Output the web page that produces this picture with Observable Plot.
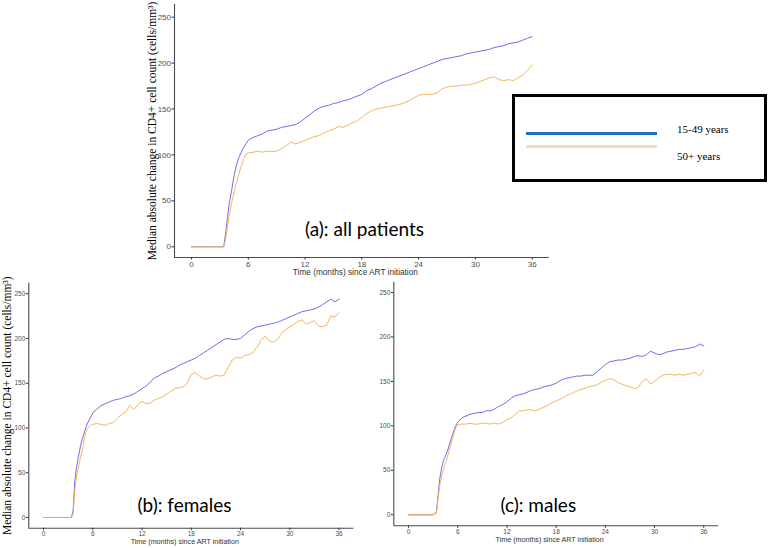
<!DOCTYPE html>
<html><head><meta charset="utf-8">
<script src="https://cdn.jsdelivr.net/npm/d3@7"></script>
<script src="https://cdn.jsdelivr.net/npm/@observablehq/plot@0.6"></script>
<style>
body{margin:0;background:#fff;}
#root{position:relative;width:768px;height:548px;overflow:hidden;background:#fff;}
.panel{position:absolute;}
#legend{position:absolute;left:512px;top:94px;width:255px;height:88px;border:3px solid #000;box-sizing:border-box;background:#fff;font-family:"Liberation Serif",serif;font-size:11px;color:#000;}
#legend .sw{position:absolute;left:11px;width:131px;height:3px;}
#legend .lb{position:absolute;left:162px;line-height:12px;white-space:nowrap;}
</style></head>
<body><div id="root"></div>
<script>
const months = [0,1,2,3,3.4,3.6,3.8,4,4.25,4.5,4.75,5,5.25,5.5,5.75,
  6,6.5,7,7.5,8,8.5,9,9.5,10,10.5,11,11.5,
  12,12.5,13,13.5,14,14.5,15,15.5,16,16.5,17,17.5,
  18,18.5,19,19.5,20,20.5,21,21.5,22,22.5,23,23.5,
  24,24.5,25,25.5,26,26.5,27,27.5,28,28.5,29,29.5,
  30,30.5,31,31.5,32,32.5,33,33.5,34,34.5,35,35.5,36];

const allYoung = [0,0,0,0, 0,14,32,48,62,78,89,97,103,108,112,
  116,119,121,123,126,127,128,130,131,132,133,136,
  140,144,148,151,153,154,156,157,159,160,162,164,
  166,170,172,175,178,180,182,184,186,188,190,192,
  194,196,198,200,202,204,205,206,207,208,210,211,
  212,213,214,215,217,218,219,221,222,223,225,227,
  229];
const allOld = [0,0,0,0, 0,8,22,35,48,60,70,79,88,95,101,
  102,103,104,103,104,104,104,107,110,114,112,114,
  116,118,120,121,124,126,128,131,130,132,135,137,
  141,145,148,150,151,152,153,154,155,157,159,162,
  165,166,166,166,168,172,174,175,175,176,176,177,
  178,180,182,184,185,182,181,182,181,184,187,192,
  198];
const femYoung = [0,0,0,0, 0,8,40,55,68,80,89,96,103,108,112,
  117,121,125,127,129,131,132,133,135,136,138,141,
  144,147,151,156,158,161,163,165,167,170,172,174,
  176,178,181,184,187,190,193,196,199,200,199,199,
  200,204,208,211,213,214,215,216,217,218,220,222,
  224,226,228,230,231,232,233,235,238,241,244,241,
  244];
const femOld = [0,0,0,0, 0,4,30,45,56,67,77,90,98,101,103,
  104,105,104,103,105,106,111,115,118,125,121,126,
  130,127,128,131,133,135,138,141,144,145,146,150,
  160,162,158,155,155,157,159,158,159,168,176,179,
  178,181,182,184,190,198,203,197,196,199,206,210,
  213,216,219,221,216,218,220,214,213,215,225,224,
  229];
const maleYoung = [0,0,0,0, 3,22,40,51,61,66,72,79,87,94,100,
  104,109,111,113,114,115,115,117,117,119,122,124,
  127,131,134,135,136,138,140,141,142,144,145,146,
  148,151,153,154,155,156,156,157,157,157,161,165,
  169,172,173,174,174,175,176,178,179,178,180,184,
  182,180,181,183,184,185,186,186,187,188,189,192,
  190];
const maleOld = [0,0,0,0, 2,18,33,42,51,58,65,74,83,90,98,
  101,102,102,103,102,102,103,103,102,103,102,104,
  107,109,113,117,117,118,118,117,119,121,123,126,
  128,130,133,135,137,139,141,142,144,145,146,149,
  151,153,152,149,147,145,144,142,143,150,153,147,
  150,154,157,158,158,157,158,157,158,159,160,156,
  163];

const xTicks = [0,6,12,18,24,30,36];
const yTicks = [0,50,100,150,200,250];
const groups = ["15-49 years","50+ years"];
const panelLabels = ["(a): all patients","(b): females","(c): males"];
const xTitle = "Time (months) since ART initiation";
const yTitle = "Median absolute change in CD4+ cell count (cells/mm³)";

const colYoung = "#6e63e4", colOld = "#f4b152";
const root = document.getElementById("root");

function series(vals){ return months.map((m,i)=>({month:m, value:vals[i]})); }

function panel(o){
  const xDomain = [-1.8, 37.8];
  const marks = [
    Plot.ruleX([xDomain[0]], {stroke:"#4a4a4a", strokeWidth:1.1}),
    Plot.ruleY([o.yDomain[0]], {stroke:"#4a4a4a", strokeWidth:1.1}),
    Plot.axisX(xTicks, {tickSize:2.5, tickPadding:o.tickPad, fontSize:o.tickFont, fill:"#4d4d4d", stroke:"#333", label:null, fontFamily:"Liberation Sans"}),
    Plot.axisY(yTicks, {tickSize:2.5, tickPadding:1, fontSize:o.tickFont, fill:"#4d4d4d", stroke:"#333", label:null, fontFamily:"Liberation Sans"}),
    Plot.text([xTitle], {text:d=>d, frameAnchor:"bottom", dx:-6.5, dy:o.titleDy, lineAnchor:"middle", fontSize:o.titleFont, fill:"#333", fontFamily:"Liberation Sans"}),
    Plot.line(series(o.young), {x:"month", y:"value", stroke:colYoung, strokeWidth:0.95}),
    Plot.line(series(o.old), {x:"month", y:"value", stroke:colOld, strokeWidth:0.95}),
    Plot.text([o.label], {text:d=>d, frameAnchor:"bottom", dx:o.labelDx, dy:o.labelDy, lineAnchor:"middle", textAnchor:"middle", fontSize:19, fill:"#000", fontFamily:"Lato"})
  ];
  if (o.yTitle) marks.push(Plot.text([yTitle], {text:d=>d, frameAnchor:"left", textAnchor:"middle", lineAnchor:"middle", rotate:-90, dx:o.yTitleDx, fontSize:11.5, fill:"#000", fontFamily:"Liberation Serif"}));
  const p = Plot.plot({
    width:o.width, height:o.height,
    marginLeft:o.ml, marginRight:o.mr, marginTop:o.mt, marginBottom:o.mb,
    x:{domain:xDomain}, y:{domain:o.yDomain},
    style:{background:"transparent", overflow:"visible"},
    marks
  });
  p.classList.add("panel");
  p.style.left = o.left + "px"; p.style.top = o.top + "px";
  p.style.maxWidth = "none";
  root.appendChild(p);
}

panel({left:140, top:0, width:420, height:280, ml:34, mr:11.3, mt:4, mb:23,
  yDomain:[-11.65, 263.8], young:allYoung, old:allOld, label:panelLabels[0],
  labelDx:2.6, labelDy:-27.5, yTitle:true, yTitleDx:-22.3,
  tickFont:8, tickPad:1.5, titleFont:8.25, titleDy:14.7});
panel({left:0, top:275, width:370, height:273, ml:28.3, mr:16.7, mt:7.7, mb:20.3,
  yDomain:[-12, 261.8], young:femYoung, old:femOld, label:panelLabels[1],
  labelDx:-6.8, labelDy:-22.7, yTitle:true, yTitleDx:-21.6,
  tickFont:6.5, tickPad:1, titleFont:7.15, titleDy:14});
panel({left:375, top:275, width:393, height:273, ml:18.3, mr:50, mt:6.7, mb:22.7,
  yDomain:[-12.4, 261.6], young:maleYoung, old:maleOld, label:panelLabels[2],
  labelDx:-17.9, labelDy:-20.3, yTitle:false,
  tickFont:6.5, tickPad:1, titleFont:7.15, titleDy:14});

const lg = document.createElement("div");
lg.id = "legend";
lg.innerHTML = `<div class="sw" style="top:34.5px;background:#1f70c1"></div>
<div class="sw" style="top:47.5px;background:#f9d8c4"></div>
<div class="lb" style="top:26px">${groups[0]}</div>
<div class="lb" style="top:53px">${groups[1]}</div>`;
root.appendChild(lg);
</script>
</body></html>
